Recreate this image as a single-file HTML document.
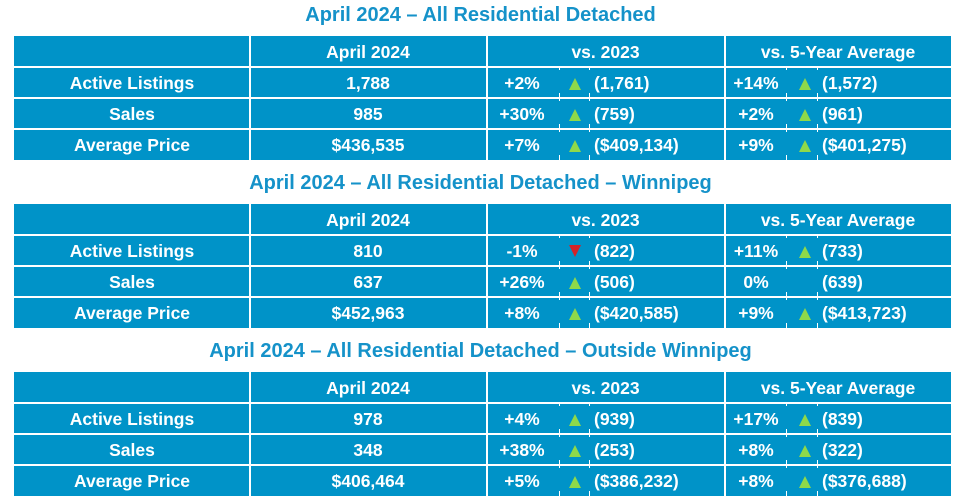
<!DOCTYPE html>
<html><head><meta charset="utf-8"><style>
body{margin:0;width:961px;height:501px;background:#fff;font-family:"Liberation Sans",Arial,sans-serif;font-weight:bold;position:relative;overflow:hidden}
.t{position:absolute;left:0;width:961px;text-align:center;color:#1592c9;font-size:20px}
.tb{position:absolute;left:14px;width:937px;height:124px;background:#0093c8}
.c{position:absolute;color:#fff;font-size:17.5px;height:31px;line-height:32px;text-align:center}
.vl{position:absolute;top:0;width:2px;height:124px;background:#fff}
.hl{position:absolute;left:0;width:937px;height:2px;background:#fff}
.tk{position:absolute;width:1px;height:5px;background:#fff}
.up{display:inline-block;width:0;height:0;border-left:6px solid transparent;border-right:6px solid transparent;border-bottom:12px solid #8fd94a;vertical-align:-1px}
.dn{display:inline-block;width:0;height:0;border-left:6px solid transparent;border-right:6px solid transparent;border-top:12px solid #d2232a;vertical-align:0px}
</style></head><body>
<div class="t" style="top:4px">April 2024 – All Residential Detached</div>
<div class="t" style="top:172px">April 2024 – All Residential Detached – Winnipeg</div>
<div class="t" style="top:340px">April 2024 – All Residential Detached – Outside Winnipeg</div>
<div id="w"></div>
<script>
var data=[
[["Active Listings","1,788","+2%","u","(1,761)","+14%","u","(1,572)"],["Sales","985","+30%","u","(759)","+2%","u","(961)"],["Average Price","$436,535","+7%","u","($409,134)","+9%","u","($401,275)"]],
[["Active Listings","810","-1%","d","(822)","+11%","u","(733)"],["Sales","637","+26%","u","(506)","0%","","(639)"],["Average Price","$452,963","+8%","u","($420,585)","+9%","u","($413,723)"]],
[["Active Listings","978","+4%","u","(939)","+17%","u","(839)"],["Sales","348","+38%","u","(253)","+8%","u","(322)"],["Average Price","$406,464","+5%","u","($386,232)","+8%","u","($376,688)"]]];
var tops=[36,204,372],h="";
function c(x,y,w,t,al){return '<div class="c" style="left:'+x+'px;top:'+y+'px;width:'+w+'px;'+(al?'text-align:left;':'')+'">'+t+'</div>';}
for(var i=0;i<3;i++){
 h+='<div class="tb" style="top:'+tops[i]+'px">';
 h+='<div class="vl" style="left:235px"></div><div class="vl" style="left:472px"></div><div class="vl" style="left:710px"></div>';
 for(var r=1;r<4;r++)h+='<div class="hl" style="top:'+(r*31-1)+'px"></div>';
 h+=c(236,0,236,"April 2024")+c(473,0,237,"vs. 2023")+c(711,0,226,"vs. 5-Year Average");
 for(var r=0;r<3;r++){var d=data[i][r],y=31*(r+1);
  [545,575,772,803].forEach(function(x){h+='<div class="tk" style="left:'+x+'px;top:'+(y+26)+'px"></div><div class="tk" style="left:'+x+'px;top:'+(y+1)+'px;height:2px"></div>';});
  h+=c(0,y,236,d[0])+c(236,y,236,d[1])+c(472,y,72,d[2]);
  h+=c(548,y,26,d[3]=="u"?'<span class="up"></span>':'<span class="dn"></span>');
  h+=c(580,y,140,d[4],1)+c(709,y,66,d[5]);
  h+=c(778,y,26,d[6]=="u"?'<span class="up"></span>':'')+c(808,y,140,d[7],1);
 }
 h+='</div>';
}
document.getElementById('w').innerHTML=h;
</script>
</body></html>
